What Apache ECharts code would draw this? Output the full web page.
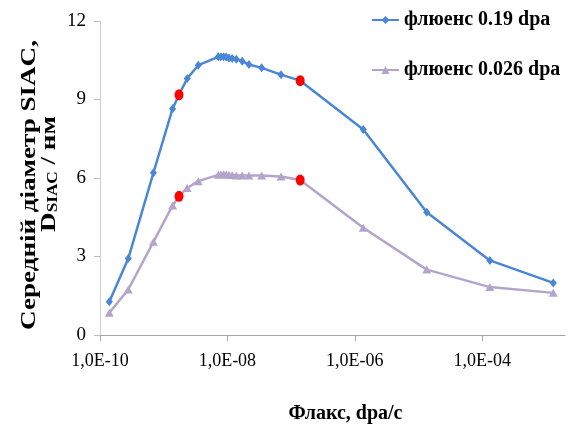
<!DOCTYPE html>
<html>
<head>
<meta charset="utf-8">
<script src="https://cdn.jsdelivr.net/npm/echarts@6/dist/echarts.min.js"></script>
<style>
  html, body { margin: 0; padding: 0; background: #ffffff; }
  #chart { width: 573px; height: 434px; }
</style>
</head>
<body>
<div id="chart"></div>
<script>
// Flux values (dpa/s), shared by both fluence series
const flux = [1.4e-10, 2.78e-10, 6.9e-10, 1.38e-9, 1.74e-9, 2.34e-9, 3.49e-9,
  7.2e-9, 7.9e-9, 8.75e-9, 9.6e-9, 1.06e-8, 1.19e-8, 1.38e-8, 1.71e-8, 2.18e-8,
  3.45e-8, 6.95e-8, 1.39e-7, 1.36e-6, 1.35e-5, 1.32e-4, 1.31e-3];

// Mean SIAC diameter, nm
const diam019 = [1.27, 2.92, 6.2, 8.65, 9.18, 9.8, 10.31,
  10.63, 10.63, 10.63, 10.62, 10.59, 10.57, 10.54, 10.46, 10.34,
  10.21, 9.95, 9.72, 7.85, 4.69, 2.85, 1.99];
const diam0026 = [0.85, 1.74, 3.56, 4.95, 5.3, 5.62, 5.88,
  6.12, 6.14, 6.14, 6.13, 6.12, 6.11, 6.1, 6.1, 6.1,
  6.1, 6.06, 5.92, 4.1, 2.5, 1.83, 1.61];

// Points marked in red on both curves
const markedIdx = [4, 18];

const seriesNames = ['флюенс 0.19 dpa', 'флюенс 0.026 dpa'];
const xTicks = [1e-10, 1e-8, 1e-6, 1e-4];

const SERIF = 'Liberation Serif';

function buildData(values) {
  return values.map((v, i) => {
    const item = { value: [flux[i], v] };
    if (markedIdx.indexOf(i) >= 0) {
      item.symbol = 'circle';
      item.symbolSize = [9, 11];
      item.itemStyle = { color: '#ff0000' };
    }
    return item;
  });
}

function fmtExp(v) {
  const e = Math.round(Math.log10(v));
  const a = Math.abs(e);
  return '1,0E' + (e < 0 ? '-' : '+') + (a < 10 ? '0' + a : '' + a);
}

const titleFont = { fontFamily: SERIF, fontWeight: 'bold', fontSize: 22, fill: '#000' };

const chart = echarts.init(document.getElementById('chart'), null, { renderer: 'canvas' });

chart.setOption({
  animation: false,
  backgroundColor: '#ffffff',
  grid: { left: 100, right: 8, top: 21, bottom: 99, containLabel: false },
  legend: {
    orient: 'vertical',
    left: 366,
    top: 5,
    itemGap: 30,
    itemWidth: 27,
    itemHeight: 10,
    data: seriesNames,
    textStyle: { fontFamily: SERIF, fontWeight: 'bold', fontSize: 20, color: '#000' }
  },
  // vertical axis title, two lines (wide bold serif)
  graphic: [
    {
      type: 'text',
      x: 29, y: 185,
      rotation: Math.PI / 2,
      scaleX: 1.23,
      style: Object.assign({
        text: 'Середній діаметр SIAC,',
        align: 'center', verticalAlign: 'middle'
      }, titleFont)
    },
    {
      type: 'text',
      x: 49, y: 174,
      rotation: Math.PI / 2,
      scaleX: 1.23,
      style: Object.assign({
        text: '{d|D}{s|SIAC}{d| / нм}',
        align: 'center', verticalAlign: 'middle',
        rich: {
          d: { fontFamily: SERIF, fontWeight: 'bold', fontSize: 22, fill: '#000', lineHeight: 22 },
          s: { fontFamily: SERIF, fontWeight: 'bold', fontSize: 14, fill: '#000', lineHeight: 22, verticalAlign: 'bottom' }
        }
      }, titleFont)
    }
  ],
  xAxis: {
    type: 'log',
    logBase: 10,
    min: 1e-10,
    max: 2.0e-3,
    name: 'Флакс, dpa/с',
    nameLocation: 'middle',
    nameGap: 69,
    nameTextStyle: { fontFamily: SERIF, fontWeight: 'bold', fontSize: 20, color: '#000', padding: [0, 0, 0, 26] },
    axisLine: { lineStyle: { color: '#a6a6a6', width: 1 } },
    axisTick: { show: true, length: 6, lineStyle: { color: '#a6a6a6' }, customValues: xTicks },
    axisLabel: {
      customValues: xTicks,
      formatter: fmtExp,
      fontFamily: SERIF, fontSize: 18, color: '#000', margin: 17
    },
    splitLine: { show: false },
    minorTick: { show: false },
    minorSplitLine: { show: false }
  },
  yAxis: {
    type: 'value',
    min: 0,
    max: 12,
    interval: 3,
    axisLine: { show: true, lineStyle: { color: '#d0d0d0', width: 1 } },
    axisTick: { show: true, length: 6, lineStyle: { color: '#bdbdbd' } },
    axisLabel: { fontFamily: SERIF, fontSize: 19, color: '#000', margin: 14 },
    splitLine: { show: false }
  },
  series: [
    {
      name: seriesNames[0],
      type: 'line',
      data: buildData(diam019),
      symbol: 'diamond',
      symbolSize: [7, 9],
      lineStyle: { color: '#4a86d6', width: 2.5 },
      itemStyle: { color: '#4a86d6' },
      z: 3
    },
    {
      name: seriesNames[1],
      type: 'line',
      data: buildData(diam0026),
      symbol: 'triangle',
      symbolSize: [9, 8],
      lineStyle: { color: '#b4a4cc', width: 2.5 },
      itemStyle: { color: '#b4a4cc' },
      z: 2
    }
  ]
});
</script>
</body>
</html>
